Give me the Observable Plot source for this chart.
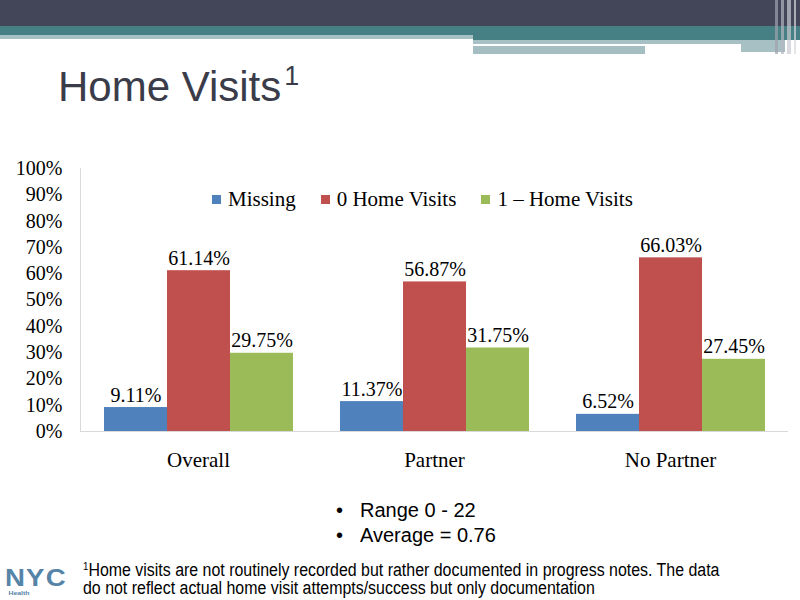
<!DOCTYPE html>
<html>
<head>
<meta charset="utf-8">
<script src="https://cdn.jsdelivr.net/npm/d3@7"></script>
<script src="https://cdn.jsdelivr.net/npm/@observablehq/plot@0.6"></script>
<style>
  html, body { margin: 0; padding: 0; background: #fff; }
  #slide { position: relative; width: 800px; height: 600px; overflow: hidden; background: #fff; font-family: "Liberation Sans", Arial, sans-serif; }
  .band { position: absolute; }
  #title { position: absolute; left: 58px; top: 66px; font-size: 42px; line-height: 42px; color: #3b3c4a; white-space: nowrap; }
  #title .sup { font-size: 27px; position: relative; top: -16px; margin-left: 3px; }
  #chart { position: absolute; left: 0; top: 150px; }
  #legend { position: absolute; left: 212px; top: 187px; display: flex; gap: 25px; font-family: "Liberation Serif", serif; font-size: 21px; line-height: 24px; color: #000; }
  #legend .item { display: flex; align-items: center; }
  #legend .sw { width: 9px; height: 9px; margin-right: 7px; }
  #bullets { position: absolute; left: 336px; top: 498px; font-size: 20px; line-height: 25px; color: #000; }
  #bullets .b { display: inline-block; width: 24px; }
  #foot { position: absolute; left: 83px; top: 557px; font-size: 18px; line-height: 18px; color: #000; white-space: nowrap; transform: scaleX(0.885); transform-origin: left top; }
  #foot sup { font-size: 11px; vertical-align: 6px; }
  #logo { position: absolute; left: 5px; top: 566px; color: #5584a8; font-weight: bold; font-size: 24px; line-height: 24px; letter-spacing: 1px; transform: scaleX(1.15); transform-origin: left top; }
  #logo small { display: block; font-size: 6px; line-height: 6px; letter-spacing: 0; margin-left: 3px; }
</style>
</head>
<body>
<div id="slide">
  <div class="band" style="left:0;top:0;width:800px;height:26px;background:#434558;"></div>
  <div class="band" style="left:0;top:26px;width:800px;height:10px;background:#467f84;"></div>
  <div class="band" style="left:0;top:35px;width:473px;height:4px;background:#a7c0c4;"></div>
  <div class="band" style="left:473px;top:35px;width:327px;height:5px;background:#467f84;"></div>
  <div class="band" style="left:473px;top:40px;width:312px;height:4px;background:#a7c0c4;"></div>
  <div class="band" style="left:741px;top:44px;width:44px;height:8px;background:#a7c0c4;"></div>
  <div class="band" style="left:473px;top:46px;width:172px;height:8px;background:#a4bec2;"></div>
  <div class="band" style="left:775px;top:0;width:3px;height:54px;background:rgba(160,162,175,0.7);"></div>
  <div class="band" style="left:781px;top:0;width:3px;height:54px;background:rgba(180,182,192,0.7);"></div>
  <div class="band" style="left:787px;top:0;width:4px;height:54px;background:rgba(200,202,210,0.7);"></div>
  <div class="band" style="left:794px;top:0;width:2px;height:54px;background:rgba(215,217,222,0.7);"></div>

  <div id="title">Home Visits<span class="sup">1</span></div>
  <div id="chart"></div>
  <div id="legend"></div>
  <div id="bullets">
    <div><span class="b">•</span>Range 0 - 22</div>
    <div><span class="b">•</span>Average = 0.76</div>
  </div>
  <div id="foot"><sup>1</sup>Home visits are not routinely recorded but rather documented in progress notes. The data<br>do not reflect actual home visit attempts/success but only documentation</div>
  <div id="logo">NYC<small>Health</small></div>
</div>
<script>
const groups = ["Overall", "Partner", "No Partner"];
const series = ["Missing", "0 Home Visits", "1 – Home Visits"];
const missing = [9.11, 11.37, 6.52];
const zeroVisits = [61.14, 56.87, 66.03];
const onePlusVisits = [29.75, 31.75, 27.45];
const yTicks = [0, 10, 20, 30, 40, 50, 60, 70, 80, 90, 100];
const colors = ["#4F81BD", "#C0504D", "#9BBB59"];

const seriesValues = [missing, zeroVisits, onePlusVisits];
const data = groups.flatMap((g, i) =>
  series.map((s, j) => ({group: g, series: s, value: seriesValues[j][i]}))
);

const chart = Plot.plot({
  width: 800,
  height: 330,
  marginTop: 18,
  marginBottom: 49,
  marginLeft: 79,
  marginRight: 11,
  style: {fontFamily: "'Liberation Serif', serif", fontSize: "20px", color: "#000", background: "transparent", overflow: "visible"},
  fx: {domain: groups, paddingInner: 0, paddingOuter: 0, label: null},
  x: {domain: series, paddingInner: 0, paddingOuter: 0.37, axis: null},
  y: {domain: [0, 100], label: null},
  color: {domain: series, range: colors},
  marks: [
    Plot.frame({anchor: "left", facetAnchor: "left", stroke: "#d9d9d9"}),
    Plot.axisY({ticks: yTicks, tickSize: 0, tickPadding: 18, tickFormat: d => d + "%", fontSize: 20, label: null}),
    Plot.axisFx({anchor: "bottom", tickSize: 0, tickPadding: 21, fontSize: 21, label: null}),
    Plot.ruleY([0], {stroke: "#d9d9d9"}),
    Plot.barY(data, {fx: "group", x: "series", y: "value", fill: "series"}),
    Plot.text(data, {fx: "group", x: "series", y: "value", text: d => d.value.toFixed(2) + "%", lineAnchor: "bottom", dy: -6, fontSize: 20, fill: "#000"})
  ]
});
document.getElementById("chart").appendChild(chart);

const legend = document.getElementById("legend");
series.forEach((s, i) => {
  const item = document.createElement("div");
  item.className = "item";
  const sw = document.createElement("span");
  sw.className = "sw";
  sw.style.background = colors[i];
  const label = document.createElement("span");
  label.textContent = s;
  item.appendChild(sw);
  item.appendChild(label);
  legend.appendChild(item);
});
</script>
</body>
</html>
